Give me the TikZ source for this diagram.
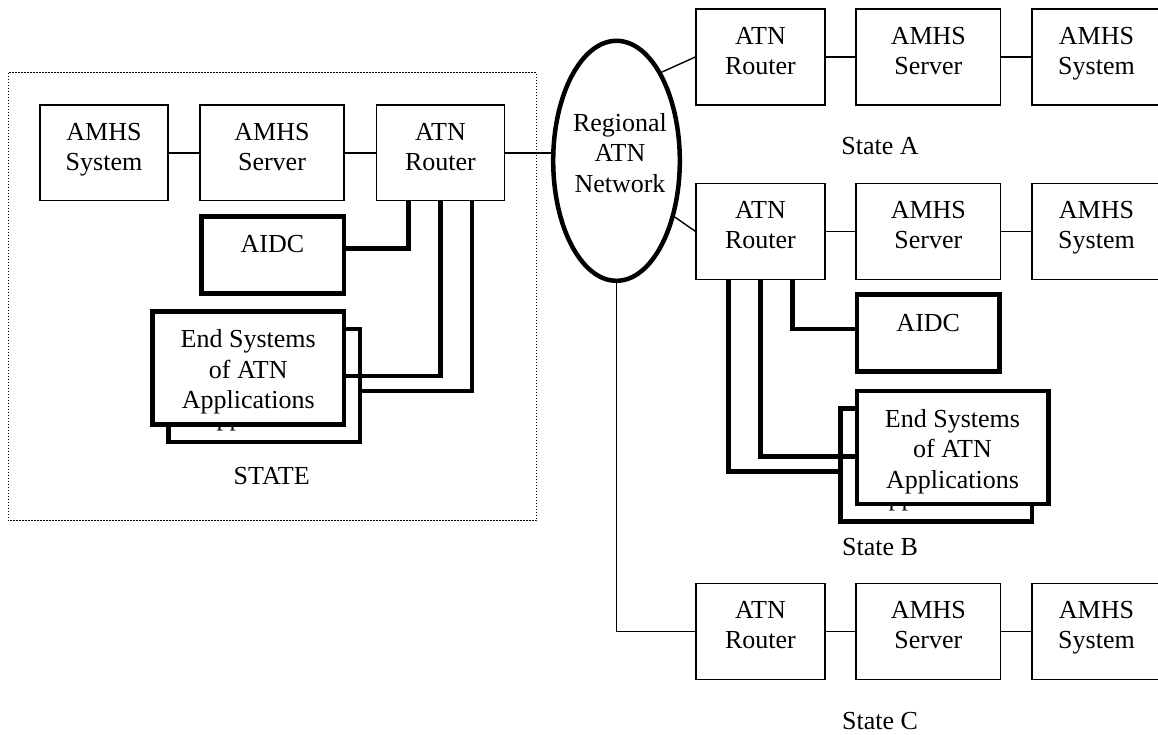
\documentclass[tikz,border=0pt]{standalone}
\usepackage{fontspec}
\setmainfont{Liberation Serif}
\usetikzlibrary{calc,shapes.geometric}
\newcommand\dfont{\fontsize{26}{30.5}\selectfont}
\begin{document}
\begin{tikzpicture}[x=1pt,y=-1pt,
  thinbox/.style={draw, line width=1.4pt, fill=white, minimum height=96pt, inner sep=0pt},
  thickbox/.style={draw, line width=4.5pt, fill=white, inner sep=0pt},
  aidcbox/.style={thickbox, minimum width=142.5pt, minimum height=77pt},
  esbox/.style={thickbox, minimum width=191.5pt, minimum height=113pt},
  txt/.style={inner sep=0pt, align=center, font=\dfont},
  thinline/.style={line width=1.4pt},
  thickline/.style={line width=4.5pt},
  framestyle/.style={line width=1.4pt, dash pattern=on 1.4pt off 1.6pt}]
\clip (0,0) rectangle (1158,734);
% state frame
\draw[framestyle] (8.3,72.7) rectangle (536.5,520.7);
% regional network
\node[draw, ellipse, line width=4.5pt, fill=white, minimum width=126.6pt, minimum height=240pt, inner sep=0pt] (net) at (616.5,160.8) {};
\node[txt] (nett) at (620,155.8) {\strut Regional\\\strut ATN\\\strut Network};
% left state row
\node[thinbox, minimum width=128pt, minimum height=95.7pt] (LS) at (104,152.85) {};
\node[txt] (LSt) at (104,149.15) {\strut AMHS\\\strut System};
\node[thinbox, minimum width=144pt, minimum height=95.7pt] (LV) at (272,152.85) {};
\node[txt] (LVt) at (272,149.15) {\strut AMHS\\\strut Server};
\node[thinbox, minimum width=127.6pt, minimum height=95.7pt] (LR) at (440.5,152.85) {};
\node[txt] (LRt) at (440.5,149.15) {\strut ATN\\\strut Router};
\draw[thinline] (LS) -- (LV);
\draw[thinline] (LV) -- (LR);
\draw[thinline] (LR.east) -- (LR.east -| net.west);
% left AIDC and end systems
\node[aidcbox] (AL) at (272.5,254.75) {};
\node[txt] (ALt) at (272.5,246.75) {\strut AIDC};
\node[esbox] (BL) at (264.25,385.25) {};
\node[txt] (BLt) at (264.25,389.25) {\strut End Systems\\\strut of ATN\\\strut Applications};
\node[esbox] (EL) at (248.25,368) {};
\node[txt] (ELt) at (248.25,372) {\strut End Systems\\\strut of ATN\\\strut Applications};
\draw[thickline] ($(LR.south)+(-32.2,0)$) |- ($(AL.east)+(0,-6.5)$);
\draw[thickline] (LR.south) |- ($(EL.east)+(0,8)$);
\draw[thickline] ($(LR.south)+(31.4,0)$) |- ($(BL.east)+(0,5.8)$);
\node[txt, anchor=base] (STl) at (271.7,484.3) {STATE};
% State A
\node[thinbox, minimum width=129pt] (RA) at (760.5,57) {};
\node[txt] (RAt) at (760.5,53.3) {\strut ATN\\\strut Router};
\node[thinbox, minimum width=144.7pt] (SA) at (928.35,57) {};
\node[txt] (SAt) at (928.35,53.3) {\strut AMHS\\\strut Server};
\node[thinbox, minimum width=128pt] (YA) at (1096,57) {};
\node[txt] (YAt) at (1096.5,53.3) {\strut AMHS\\\strut System};
\draw[thinline] (RA) -- (SA);
\draw[thinline] (SA) -- (YA);
\draw[thinline] (net.63.5) -- (RA.west);
\node[txt, anchor=base] (STA) at (880,154.3) {State A};
% State B
\node[thinbox, minimum width=129pt] (RB) at (760.5,231.3) {};
\node[txt] (RBt) at (760.5,227.6) {\strut ATN\\\strut Router};
\node[thinbox, minimum width=144.7pt] (SB) at (928.35,231.3) {};
\node[txt] (SBt) at (928.35,227.6) {\strut AMHS\\\strut Server};
\node[thinbox, minimum width=128pt] (YB) at (1096,231.3) {};
\node[txt] (YBt) at (1096.5,227.6) {\strut AMHS\\\strut System};
\draw[thinline] (RB) -- (SB);
\draw[thinline] (SB) -- (YB);
\draw[thinline] (net.-44.4) -- (RB.west);
\node[aidcbox] (AB) at (928.25,333.2) {};
\node[txt] (ABt) at (928.25,325.2) {\strut AIDC};
\node[esbox] (BB) at (936.2,465) {};
\node[txt] (BBt) at (936.2,469) {\strut End Systems\\\strut of ATN\\\strut Applications};
\node[esbox] (EB) at (952.5,447.5) {};
\node[txt] (EBt) at (952.5,451.5) {\strut End Systems\\\strut of ATN\\\strut Applications};
\draw[thickline] ($(RB.south)+(32.2,0)$) |- ($(AB.west)+(0,-4.2)$);
\draw[thickline] (RB.south) |- ($(EB.west)+(0,9.2)$);
\draw[thickline] ($(RB.south)+(-32.2,0)$) |- ($(BB.west)+(0,6.7)$);
\node[txt, anchor=base] (STB) at (880,555) {State B};
% State C
\node[thinbox, minimum width=129pt] (RC) at (760.5,631.3) {};
\node[txt] (RCt) at (760.5,627.6) {\strut ATN\\\strut Router};
\node[thinbox, minimum width=144.7pt] (SC) at (928.35,631.3) {};
\node[txt] (SCt) at (928.35,627.6) {\strut AMHS\\\strut Server};
\node[thinbox, minimum width=128pt] (YC) at (1096,631.3) {};
\node[txt] (YCt) at (1096.5,627.6) {\strut AMHS\\\strut System};
\draw[thinline] (RC) -- (SC);
\draw[thinline] (SC) -- (YC);
\draw[thinline] (net.south) |- (RC.west);
\node[txt, anchor=base] (STC) at (880,729) {State C};
\end{tikzpicture}
\end{document}
